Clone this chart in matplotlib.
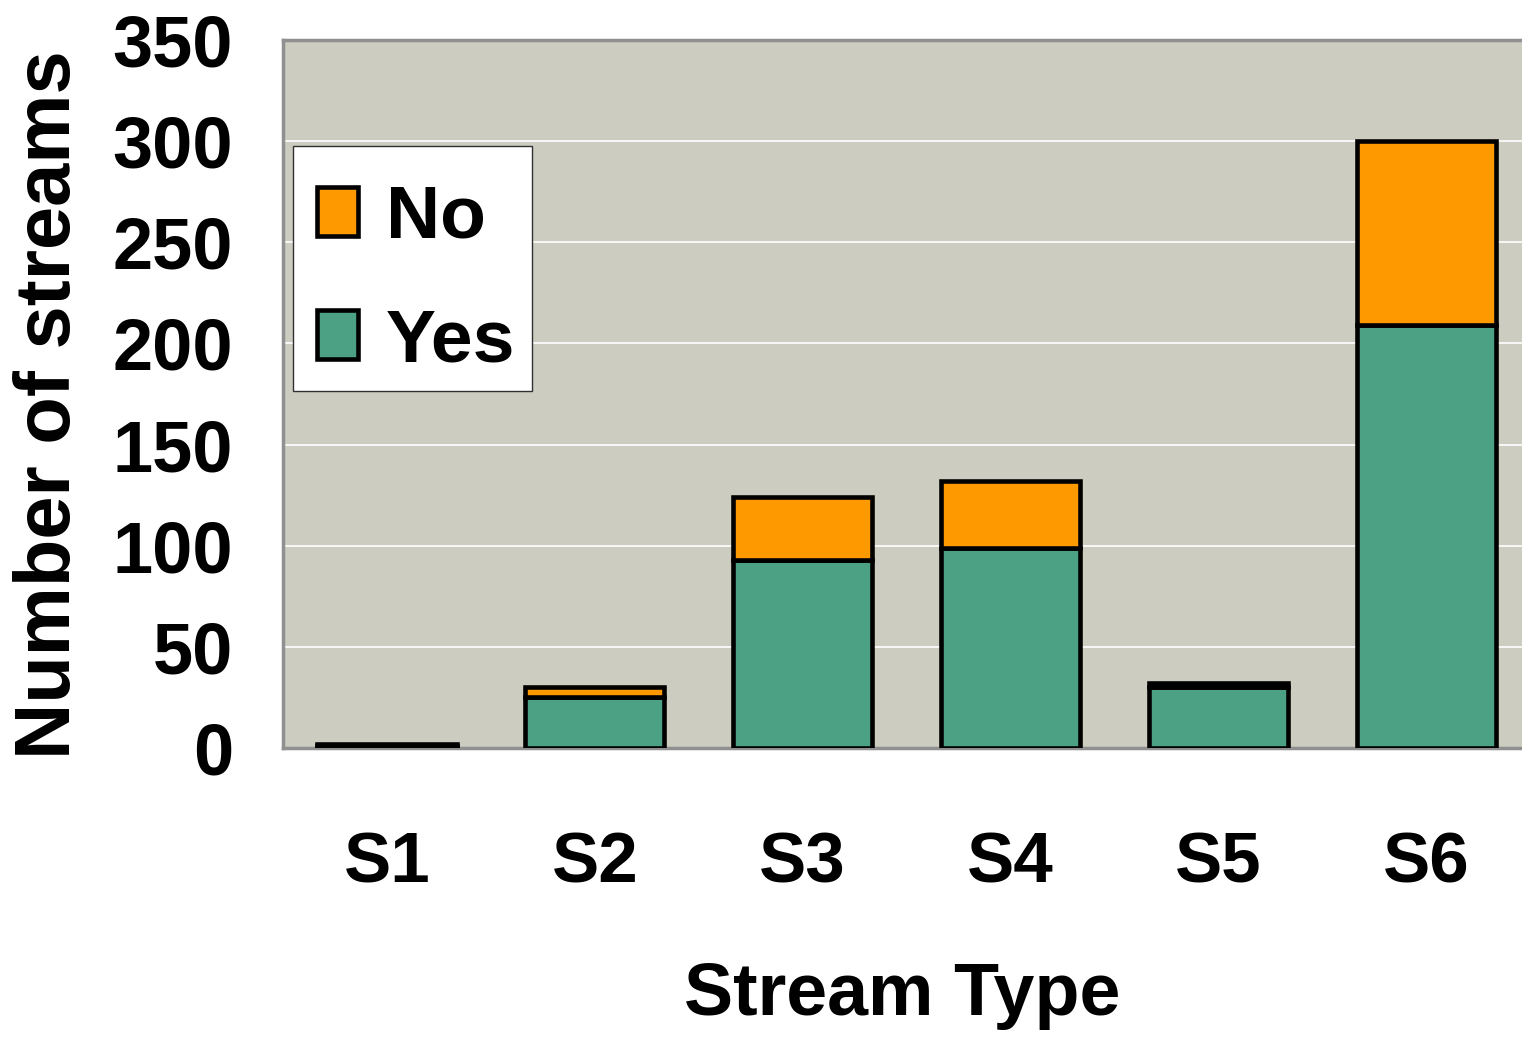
import matplotlib
matplotlib.use("Agg")
import matplotlib.pyplot as plt
from matplotlib.patches import Rectangle
import numpy as np

categories = ["S1", "S2", "S3", "S4", "S5", "S6"]
yes_vals = [1, 25, 93, 99, 30, 209]
no_vals = [1, 5, 31, 33, 2, 91]
yticks = [0, 50, 100, 150, 200, 250, 300, 350]

FAM = ['Liberation Sans', 'DejaVu Sans']
plt.rcParams['font.family'] = FAM
plt.rcParams['font.weight'] = 'bold'

W, H = 1522, 1037
fig = plt.figure(figsize=(W/100, H/100), dpi=100)
ax = fig.add_axes([283/W, 1-748/H, (W-283)/W, (748-40)/H])
ax.set_facecolor('#CCCCC0')

x = np.arange(len(categories))
green = '#4CA185'
orange = '#FF9900'
ax.bar(x, yes_vals, width=0.67, color=green, edgecolor='black', linewidth=3.3, label='Yes', zorder=3)
ax.bar(x, no_vals, width=0.67, bottom=yes_vals, color=orange, edgecolor='black', linewidth=3.3, label='No', zorder=3)

ax.set_ylim(0, 350)
ax.set_xlim(-0.5, 5.46)
ax.set_yticks(yticks)
ax.set_yticklabels([str(v) for v in yticks], fontsize=52, fontweight='bold')
ax.set_xticks(x)
ax.set_xticklabels(categories, fontsize=51, fontweight='bold')
ax.tick_params(axis='both', length=0)
ax.tick_params(axis='y', pad=36)
ax.tick_params(axis='x', pad=60)
ax.yaxis.grid(True, color='white', linewidth=1.2, zorder=0)
ax.set_axisbelow(True)
for s in ['left', 'bottom', 'top']:
    ax.spines[s].set_color('#909090')
    ax.spines[s].set_linewidth(2.5)
ax.spines['right'].set_visible(False)

fig.text(902/W, 1-996/H, 'Stream Type', fontsize=53, fontweight='bold',
         ha='center', va='center')
fig.text(50/W, 1-405/H, 'Number of streams', fontsize=56, fontweight='bold',
         ha='center', va='center', rotation=90)

# legend frame
ax.add_patch(Rectangle((293/W, 1-391/H), (532-293)/W, (391-146)/H,
                       transform=fig.transFigure, facecolor='white',
                       edgecolor='#303030', linewidth=1, zorder=4, clip_on=False))

handles, labels = ax.get_legend_handles_labels()
leg = ax.legend(handles[::-1], labels[::-1], loc='center left',
                bbox_to_anchor=(317/W, 1-280/H), bbox_transform=fig.transFigure,
                borderaxespad=0, prop={'size': 54, 'weight': 'bold'},
                frameon=False,
                handlelength=0.55, handleheight=0.62, labelspacing=0.72,
                handletextpad=0.37, borderpad=0)
leg.set_zorder(5)

fig.savefig('out.png', dpi=100)
